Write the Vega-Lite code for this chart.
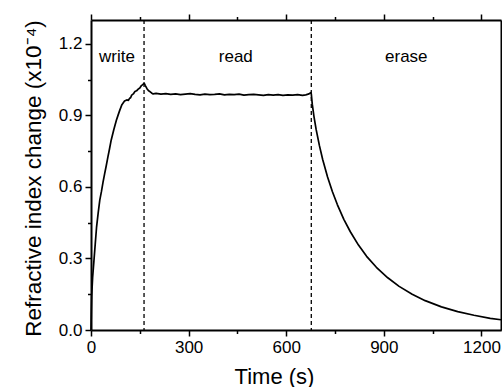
{
  "$schema": "https://vega.github.io/schema/vega-lite/v6.json",
  "width": 410,
  "height": 310,
  "autosize": {"type": "none"},
  "padding": {"left": 91, "top": 20, "right": 1, "bottom": 57},
  "background": "white",
  "datasets": {
    "curve": [
      {"t": 0, "n": 0.0}, {"t": 1, "n": 0.08}, {"t": 2, "n": 0.14}, {"t": 5, "n": 0.22},
      {"t": 9, "n": 0.29}, {"t": 13, "n": 0.36}, {"t": 17, "n": 0.43}, {"t": 22, "n": 0.49},
      {"t": 27, "n": 0.545}, {"t": 32, "n": 0.58}, {"t": 37, "n": 0.62}, {"t": 42, "n": 0.656},
      {"t": 47, "n": 0.69}, {"t": 52, "n": 0.726}, {"t": 57, "n": 0.76}, {"t": 62, "n": 0.796},
      {"t": 70, "n": 0.84}, {"t": 78, "n": 0.88}, {"t": 83, "n": 0.9}, {"t": 88, "n": 0.92},
      {"t": 95, "n": 0.945}, {"t": 103, "n": 0.96}, {"t": 110, "n": 0.965}, {"t": 115, "n": 0.963},
      {"t": 118, "n": 0.97}, {"t": 122, "n": 0.975}, {"t": 125, "n": 0.985}, {"t": 130, "n": 0.99},
      {"t": 135, "n": 1.0}, {"t": 140, "n": 1.003}, {"t": 145, "n": 1.01}, {"t": 150, "n": 1.015},
      {"t": 155, "n": 1.025}, {"t": 160, "n": 1.03}, {"t": 163, "n": 1.036}, {"t": 167, "n": 1.025},
      {"t": 172, "n": 1.012}, {"t": 177, "n": 1.003}, {"t": 181, "n": 1.0}, {"t": 186, "n": 0.994},
      {"t": 191, "n": 0.99}, {"t": 200, "n": 0.992}, {"t": 215, "n": 0.989}, {"t": 230, "n": 0.991},
      {"t": 245, "n": 0.988}, {"t": 260, "n": 0.99}, {"t": 275, "n": 0.987}, {"t": 290, "n": 0.989},
      {"t": 305, "n": 0.991}, {"t": 320, "n": 0.988}, {"t": 335, "n": 0.986}, {"t": 350, "n": 0.989},
      {"t": 365, "n": 0.987}, {"t": 380, "n": 0.988}, {"t": 395, "n": 0.99}, {"t": 410, "n": 0.986},
      {"t": 425, "n": 0.988}, {"t": 440, "n": 0.987}, {"t": 455, "n": 0.989}, {"t": 470, "n": 0.985},
      {"t": 485, "n": 0.987}, {"t": 500, "n": 0.988}, {"t": 515, "n": 0.986}, {"t": 530, "n": 0.984},
      {"t": 545, "n": 0.987}, {"t": 560, "n": 0.985}, {"t": 575, "n": 0.987}, {"t": 590, "n": 0.984},
      {"t": 605, "n": 0.986}, {"t": 620, "n": 0.985}, {"t": 635, "n": 0.987}, {"t": 650, "n": 0.984},
      {"t": 660, "n": 0.986}, {"t": 670, "n": 0.99}, {"t": 675, "n": 0.995}, {"t": 677, "n": 0.99},
      {"t": 680, "n": 0.947}, {"t": 685, "n": 0.897}, {"t": 692, "n": 0.84}, {"t": 702, "n": 0.773},
      {"t": 712, "n": 0.715}, {"t": 727, "n": 0.642}, {"t": 742, "n": 0.58}, {"t": 757, "n": 0.526},
      {"t": 777, "n": 0.464}, {"t": 797, "n": 0.412}, {"t": 822, "n": 0.356}, {"t": 847, "n": 0.309},
      {"t": 877, "n": 0.263}, {"t": 912, "n": 0.219}, {"t": 947, "n": 0.183}, {"t": 987, "n": 0.15},
      {"t": 1027, "n": 0.123}, {"t": 1077, "n": 0.097}, {"t": 1127, "n": 0.077}, {"t": 1177, "n": 0.062},
      {"t": 1227, "n": 0.049}, {"t": 1260, "n": 0.043}
    ],
    "phases": [{"t": 163}, {"t": 677}],
    "labels": [
      {"t": 80, "n": 1.124, "label": "write"},
      {"t": 445, "n": 1.124, "label": "read"},
      {"t": 969, "n": 1.124, "label": "erase"}
    ]
  },
  "layer": [
    {
      "data": {"name": "curve"},
      "mark": {"type": "line", "color": "black", "strokeWidth": 1.7, "strokeJoin": "round"},
      "encoding": {
        "x": {
          "field": "t", "type": "quantitative",
          "scale": {"domain": [0, 1260], "nice": false, "zero": false},
          "axis": {
            "orient": "bottom",
            "values": [0, 150, 300, 450, 600, 750, 900, 1050, 1200],
            "format": "d",
            "labelExpr": "datum.value % 300 === 0 ? datum.label : ''",
            "tickSize": {"condition": {"test": "datum.value % 300 === 0", "value": 6}, "value": 3.5},
            "labelPadding": 3,
            "labelFlush": false,
            "labelOverlap": false,
            "title": "Time (s)",
            "titleFontSize": 22,
            "titleX": 183,
            "titleY": 53,
            "titleBaseline": "alphabetic",
            "titleAlign": "center"
          }
        },
        "y": {
          "field": "n", "type": "quantitative",
          "scale": {"domain": [0, 1.3], "nice": false},
          "axis": {
            "orient": "left",
            "values": [0, 0.15, 0.3, 0.45, 0.6, 0.75, 0.9, 1.05, 1.2],
            "format": ".1f",
            "labelExpr": "round(datum.value * 100) % 30 === 0 ? datum.label : ''",
            "tickSize": {"condition": {"test": "round(datum.value * 100) % 30 === 0", "value": 6}, "value": 3.5},
            "labelPadding": 3,
            "labelFlush": false,
            "labelOverlap": false,
            "title": "Refractive index change (x10⁻⁴)",
            "titleFontSize": 22.5,
            "titleX": -58,
            "titleY": 158,
            "titleAngle": -90,
            "titleAlign": "center",
            "titleBaseline": "middle"
          }
        }
      }
    },
    {
      "data": {"name": "phases"},
      "mark": {"type": "rule", "color": "black", "strokeWidth": 1.3, "strokeDash": [4, 3]},
      "encoding": {
        "x": {"field": "t", "type": "quantitative", "axis": null}
      }
    },
    {
      "data": {"name": "labels"},
      "mark": {"type": "text", "font": "Liberation Sans", "fontSize": 17, "color": "black", "align": "center", "baseline": "alphabetic"},
      "encoding": {
        "x": {
          "field": "t", "type": "quantitative",
          "axis": {
            "orient": "top",
            "values": [0, 150, 300, 450, 600, 750, 900, 1050, 1200],
            "labels": false,
            "title": null,
            "tickSize": {"condition": {"test": "datum.value % 300 === 0", "value": 6}, "value": 3.5}
          }
        },
        "y": {
          "field": "n", "type": "quantitative",
          "axis": {
            "orient": "right",
            "values": [0, 0.15, 0.3, 0.45, 0.6, 0.75, 0.9, 1.05, 1.2],
            "labels": false,
            "title": null,
            "tickSize": 5
          }
        },
        "text": {"field": "label", "type": "nominal"}
      }
    }
  ],
  "resolve": {"axis": {"x": "independent", "y": "independent"}},
  "config": {
    "view": {"stroke": null},
    "font": "Liberation Sans",
    "axis": {
      "grid": false,
      "domainColor": "black",
      "domainWidth": 2,
      "tickColor": "black",
      "tickWidth": 1.5,
      "labelColor": "black",
      "labelFont": "Liberation Sans",
      "labelFontSize": 17,
      "titleFont": "Liberation Sans",
      "titleFontSize": 21,
      "titleFontWeight": "normal",
      "titleColor": "black"
    }
  }
}
